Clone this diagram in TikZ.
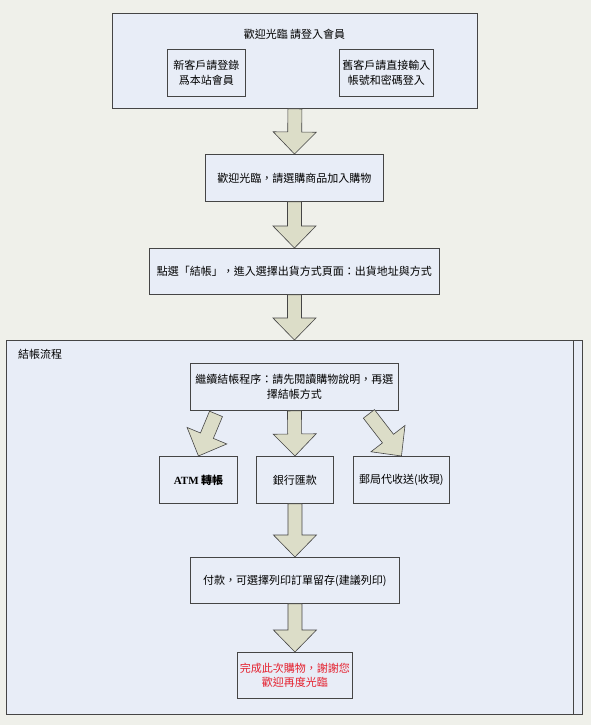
\documentclass[tikz,border=0pt]{standalone}
\usepackage{fontspec}
\setmainfont{Liberation Serif}
\newfontfamily\cjk{Noto Sans CJK TC}
\usetikzlibrary{calc}
\definecolor{bg}{HTML}{EFF0EA}
\definecolor{boxfill}{HTML}{E8EDF7}
\definecolor{arrfill}{HTML}{DCDDC8}
\definecolor{edge}{HTML}{454545}
\definecolor{redtxt}{HTML}{E5202E}
\tikzset{
 box/.style={draw=edge, line width=0.9pt, fill=boxfill, inner sep=0pt, anchor=north west, align=center, font=\cjk\fontsize{11}{14.5}\selectfont},
 barrow/.style={draw=edge, line width=0.6pt, fill=arrfill, line join=miter},
 lbl/.style={font=\cjk\fontsize{11}{14.5}\selectfont, inner sep=0pt}
}
\newcommand\blockarrow[2]{%
 \coordinate (ba-h) at ($(#2)!22pt!(#1)$);
 \draw[barrow] ($(#1)!7pt!90:(#2)$) -- ($(ba-h)!7pt!90:(#2)$) -- ($(ba-h)!21.5pt!90:(#2)$) -- (#2) -- ($(ba-h)!21.5pt!-90:(#2)$) -- ($(ba-h)!7pt!-90:(#2)$) -- ($(#1)!7pt!-90:(#2)$) -- cycle;}
\begin{document}
\begin{tikzpicture}[x=1pt,y=-1pt]
\fill[bg] (0,0) rectangle (591,725);
\useasboundingbox (0,0) rectangle (591,725);
% login block
\node[box, minimum width=365, minimum height=95] (login) at (112,13) {};
\node[lbl] (logintitle) at (294.5,34) {歡迎光臨 請登入會員};
\node[box, minimum width=78, minimum height=47] (newc) at (167,49) {新客戶請登錄\\爲本站會員};
\node[box, minimum width=94, minimum height=47] (oldc) at (339,49) {舊客戶請直接輸入\\帳號和密碼登入};
\node[box, minimum width=178, minimum height=47] (box2) at (205,154) {歡迎光臨，請選購商品加入購物};
\node[box, minimum width=290, minimum height=46] (box3) at (149,248) {點選「結帳」，進入選擇出貨方式頁面：出貨地址與方式};
% container
\node[draw=edge, line width=0.9pt, fill=boxfill, minimum width=576, minimum height=374, anchor=north west, inner sep=0pt] (flow) at (6,340) {};
\draw[edge, line width=0.9pt] ([xshift=-9pt]flow.north east) -- ([xshift=-9pt]flow.south east);
\node[lbl, anchor=west] (flowlbl) at (18,354) {結帳流程};
\node[box, minimum width=208, minimum height=47] (box4) at (190,363) {繼續結帳程序：請先閱讀購物說明，再選\\擇結帳方式};
\node[box, minimum width=78, minimum height=47] (atm) at (159,456) {{\bfseries\rmfamily ATM} {\bfseries 轉帳}};
\node[box, minimum width=77, minimum height=47] (bank) at (256,456) {銀行匯款};
\node[box, minimum width=96, minimum height=47] (post) at (353,456) {郵局代收送(收現)};
\node[box, minimum width=209, minimum height=46] (box5) at (190,557) {付款，可選擇列印訂單留存(建議列印)};
\node[box, minimum width=115, minimum height=46, text=redtxt] (box6) at (237,652) {完成此次購物，謝謝您\\歡迎再度光臨};
% arrows
\blockarrow{login.south}{box2.north}
\blockarrow{box2.south}{box3.north}
\blockarrow{box3.south}{flow.north}
\coordinate (la) at ([xshift=26pt,yshift=-3pt]box4.south west);
\coordinate (ra) at ([xshift=-30pt,yshift=-3pt]box4.south east);
\blockarrow{la}{atm.north}
\blockarrow{box4.south}{bank.north}
\blockarrow{ra}{post.north}
\blockarrow{bank.south}{box5.north}
\blockarrow{box5.south}{box6.north}
\end{tikzpicture}
\end{document}
